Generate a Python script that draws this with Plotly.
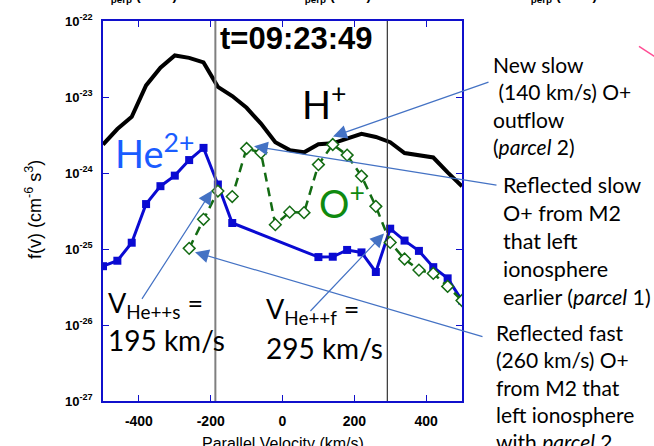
import plotly.graph_objects as go

# ---------------- data ----------------
v_h = [-500, -460, -420, -380, -340, -300, -260, -220, -180, -140, -100, -60, -20,
       20, 60, 100, 140, 180, 220, 260, 300, 340, 380, 420, 460, 500]
f_h = [2.37e-24, 3.79e-24, 5.48e-24, 1.42e-23, 2.43e-23, 3.52e-23, 3.27e-23, 2.85e-23,
       1.36e-23, 1.03e-23, 7.21e-24, 4.46e-24, 2.54e-24, 2.00e-24, 1.87e-24, 2.39e-24,
       2.46e-24, 2.85e-24, 3.28e-24, 2.98e-24, 2.54e-24, 1.83e-24, 1.70e-24, 1.60e-24,
       1.02e-24, 6.70e-25]

v_he = [-500, -460, -420, -380, -340, -300, -260, -220, -180, -140,
        100, 140, 180, 220, 260, 300, 340, 380, 420, 460, 500]
f_he = [5.94e-26, 7.01e-26, 1.21e-25, 3.90e-25, 6.71e-25, 9.23e-25, 1.48e-24, 2.14e-24,
        7.06e-25, 2.20e-25, 7.83e-26, 7.91e-26, 9.72e-26, 9.02e-26, 4.98e-26, 1.85e-25,
        1.29e-25, 9.44e-26, 5.77e-26, 4.11e-26, 2.10e-26]

v_o = [-260, -220, -180, -140, -100, -60, -20, 20, 60, 100, 140, 180, 220, 260, 300,
       340, 380, 420, 460, 500]
f_o = [1.02e-25, 2.46e-25, 5.79e-25, 4.90e-25, 2.10e-24, 1.85e-24, 2.09e-25, 3.05e-25,
       3.01e-25, 1.29e-24, 2.37e-24, 1.72e-24, 9.10e-25, 3.64e-25, 1.22e-25, 7.38e-26,
       5.28e-26, 4.77e-26, 3.22e-26, 2.10e-26]

v_lines = [-187, 292]

x_ticks = [-400, -200, 0, 200, 400]
x_ticktext = ["-400", "-200", "0", "200", "400"]
y_ticks = [1e-27, 1e-26, 1e-25, 1e-24, 1e-23, 1e-22]
y_ticktext = ["10<sup>-27</sup>", "10<sup>-26</sup>", "10<sup>-25</sup>",
              "10<sup>-24</sup>", "10<sup>-23</sup>", "10<sup>-22</sup>"]

# ---------------- layout helpers ----------------
W, H = 654, 446
L, R, T, B = 103, 462, 13, 401


def px(x):
    return (x - L) / (R - L)


def py(y):
    return (B - y) / (B - T)


AXBLUE = "#1010cc"
HEBLUE = "#0a0ad2"
OGREEN = "#136b13"
ARROW = "#4472C4"
TXT = "Lato, Open Sans, sans-serif"

fig = go.Figure()
fig.add_trace(go.Scatter(x=v_h, y=f_h, mode="lines",
                         line=dict(color="black", width=4), showlegend=False))
fig.add_trace(go.Scatter(x=v_he, y=f_he, mode="lines+markers",
                         line=dict(color=HEBLUE, width=3),
                         marker=dict(symbol="square", size=8, color=HEBLUE),
                         showlegend=False))
fig.add_trace(go.Scatter(x=v_o, y=f_o, mode="lines+markers",
                         line=dict(color=OGREEN, width=2.5, dash="9px,6px"),
                         marker=dict(symbol="diamond", size=9, color="white",
                                     line=dict(color=OGREEN, width=1.5)),
                         showlegend=False))

vcols = [("#7f7f7f", 2), ("#333333", 1.2)]
for xv, (c, w) in zip(v_lines, vcols):
    fig.add_shape(type="line", xref="x", yref="paper", x0=xv, x1=xv, y0=0, y1=1,
                  line=dict(color=c, width=w), layer="above")

# pink stray line at top right
fig.add_shape(type="line", xref="paper", yref="paper",
              x0=px(639), y0=py(39), x1=px(662), y1=py(54),
              line=dict(color="#ff4d94", width=1.5))

ann = []
# arrows: (tip_x, tip_y, tail_x, tail_y) in pixels
arrows = [(333, 131, 490, 76), (254, 141, 498, 180), (195, 249, 484, 334),
          (212, 186, 141, 296), (384, 230, 309, 309)]
for tx, ty, sx, sy in arrows:
    ann.append(dict(x=px(tx), y=py(ty), xref="paper", yref="paper", text="",
                    showarrow=True, ax=sx - tx, ay=sy - ty, arrowhead=2,
                    arrowsize=2.3, arrowwidth=1.2, arrowcolor=ARROW, standoff=0))


def text(x, y, s, size, color="black", family=TXT, xanchor="left",
         yanchor="middle", align="left", weight="normal", angle=0):
    ann.append(dict(x=px(x), y=py(y), xref="paper", yref="paper", text=s,
                    showarrow=False, xanchor=xanchor, yanchor=yanchor, align=align,
                    textangle=angle,
                    font=dict(family=family, size=size, color=color, weight=weight)))


text(296, 31, "t=09:23:49", 31, family="Liberation Sans, Arial", xanchor="center",
     weight="bold")
text(324, 96, "H<sup>+</sup>", 38, xanchor="center")
text(154, 146, "He<sup>2+</sup>", 38, color="#1a5cff", xanchor="center")
text(342, 197, "O<sup>+</sup>", 38, color="#0f8a0f", xanchor="center")
text(106, 302, "V<sub>He++s</sub> =", 27)
text(106, 339, "195 km/s", 28)
text(264, 309, "V<sub>He++f</sub> =", 27)
text(264, 347, "295 km/s", 28)

text(491, 99, "New slow<br>&nbsp;(140 km/s) O+<br>outflow<br>(<i>parcel</i> 2)", 21)
text(501, 238, "Reflected slow<br>O+ from M2<br>that left<br>ionosphere<br>earlier (<i>parcel</i> 1)", 21.5)
text(494, 387, "Reflected fast<br>(260 km/s) O+<br>from M2 that<br>left ionosphere<br>with <i>parcel</i> 2", 21)

# axis titles
text(283, 444, "Parallel Velocity (km/s)", 16, family="Liberation Sans, Arial",
     xanchor="center")
text(33, 206, "f(v) (cm<sup>-6</sup> s<sup>3</sup>)", 18, family="Liberation Sans, Arial",
     xanchor="center", angle=-90)

# cut-off texts at the top edge
for cx in (140, 334, 560):
    text(cx, -13, "v<sub>perp</sub> (km/s)", 14, family="Liberation Sans, Arial",
         xanchor="center", weight="bold")

axis_common = dict(showline=True, linecolor=AXBLUE, linewidth=1.5, mirror="ticks",
                   ticks="inside", ticklen=6, tickcolor=AXBLUE, tickwidth=1,
                   showgrid=False, zeroline=False)

fig.update_layout(
    width=W, height=H,
    margin=dict(l=L, r=W - R, t=T, b=H - B, pad=0),
    paper_bgcolor="white", plot_bgcolor="white",
    showlegend=False,
    xaxis=dict(range=[-500, 500], tickvals=x_ticks, ticktext=x_ticktext,
               tickfont=dict(family="Liberation Sans, Arial", size=14, color="black",
                             weight="bold"),
               ticklabelstandoff=6, **axis_common),
    yaxis=dict(type="log", range=[-27, -22], tickvals=y_ticks, ticktext=y_ticktext,
               tickfont=dict(family="Liberation Sans, Arial", size=13, color="black",
                             weight="bold"),
               ticklabelstandoff=6, **axis_common),
    annotations=ann,
)

fig.write_html("out.html")
